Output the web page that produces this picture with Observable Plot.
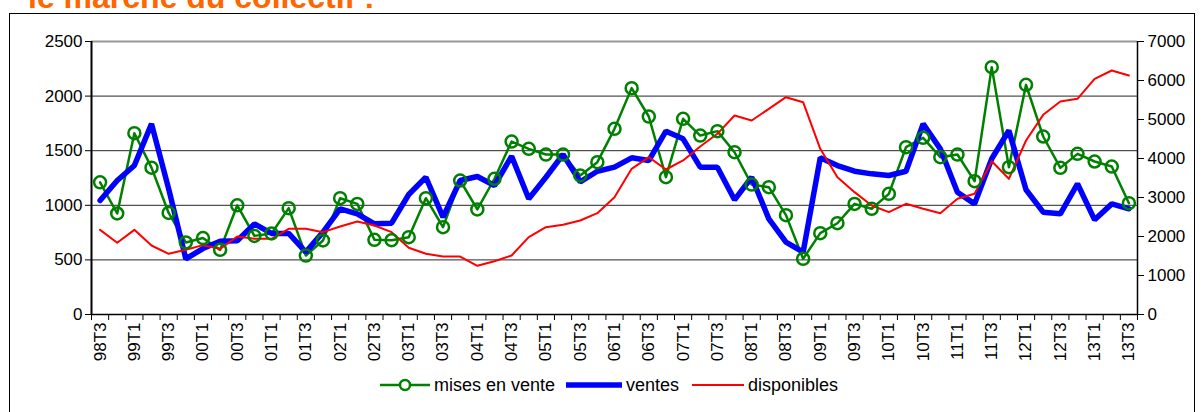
<!DOCTYPE html>
<html><head><meta charset="utf-8">
<script src="https://cdn.jsdelivr.net/npm/d3@7"></script>
<script src="https://cdn.jsdelivr.net/npm/@observablehq/plot@0.6"></script>
<style>
body{margin:0;background:#fff;font-family:"Liberation Sans",Arial,sans-serif;width:1204px;height:412px;overflow:hidden;position:relative}
#frame{position:absolute;left:9px;top:13px;width:1186px;height:430px;border:1px solid #000;box-sizing:border-box}
#title{position:absolute;left:28px;top:-19px;font-weight:bold;font-size:32px;color:#ff6600;line-height:32px;white-space:nowrap}
#chart{position:absolute;left:0;top:0}
.lg{position:absolute;font-size:18px;line-height:18px;white-space:nowrap;color:#000}
.sw{position:absolute}
</style></head>
<body>
<div id="frame"></div>
<div id="title">le marché du collectif :</div>
<div id="chart"></div>
<div id="legend"></div>
<script>
const quarters = ["98T3","98T4","99T1","99T2","99T3","99T4","00T1","00T2","00T3","00T4","01T1","01T2","01T3","01T4","02T1","02T2","02T3","02T4","03T1","03T2","03T3","03T4","04T1","04T2","04T3","04T4","05T1","05T2","05T3","05T4","06T1","06T2","06T3","06T4","07T1","07T2","07T3","07T4","08T1","08T2","08T3","08T4","09T1","09T2","09T3","09T4","10T1","10T2","10T3","10T4","11T1","11T2","11T3","11T4","12T1","12T2","12T3","12T4","13T1","13T2","13T3"];
const mises = [1210,925,1660,1345,930,660,700,592,1000,720,742,974,540,678,1065,1013,684,680,708,1065,800,1227,962,1243,1584,1517,1465,1465,1273,1395,1700,2073,1813,1258,1792,1639,1679,1486,1190,1166,910,510,745,836,1013,968,1105,1532,1618,1441,1465,1221,2265,1349,2103,1630,1343,1471,1401,1355,1019];
const ventes = [1044,1227,1364,1746,1150,510,604,671,675,830,742,742,571,754,968,922,830,836,1099,1257,891,1227,1264,1181,1450,1060,1257,1465,1215,1312,1349,1435,1410,1679,1609,1349,1349,1050,1257,876,662,571,1435,1364,1312,1288,1273,1312,1746,1517,1120,1013,1426,1685,1142,937,922,1197,867,1013,968];
const disponibles = [2171,1838,2171,1769,1556,1658,1778,1684,2000,1940,1940,2197,2197,2111,2256,2385,2282,2111,1710,1556,1487,1487,1248,1367,1513,1983,2239,2299,2410,2598,3008,3735,4034,3718,3949,4308,4633,5103,4974,5274,5572,5444,4248,3521,3137,2795,2624,2838,2710,2598,2966,3094,3931,3479,4462,5120,5461,5530,6043,6256,6128];
const leftTicks = [0,500,1000,1500,2000,2500];
const rightTicks = [0,1000,2000,3000,4000,5000,6000,7000];
const seriesNames = ["mises en vente","ventes","disponibles"];
const seriesColors = ["#008000","#0000ff","#ff0000"];

const leftMax = 2500, rightMax = 7000;
const n = quarters.length;
const data = quarters.map((q,i)=>({i, q, m: mises[i], v: ventes[i], d: disponibles[i]*leftMax/rightMax}));
const font = '"Liberation Sans", Arial, sans-serif';

const chart = Plot.plot({
  width: 1204, height: 370,
  marginLeft: 91, marginRight: 67, marginTop: 41, marginBottom: 56,
  x: {type: "linear", domain: [-0.5, n - 0.5], label: null},
  y: {domain: [0, leftMax], label: null},
  style: {fontFamily: font, fontSize: "17px", color: "#000", background: "transparent", overflow: "visible"},
  marks: [
    Plot.ruleY(leftTicks.filter(d => d > 0 && d < leftMax), {stroke: "#000", strokeOpacity: 0.85}),
    Plot.ruleY([leftMax], {stroke: "#999", strokeWidth: 2}),
    Plot.line(data, {x: "i", y: "m", stroke: seriesColors[0], strokeWidth: 2.5}),
    Plot.line(data, {x: "i", y: "v", stroke: seriesColors[1], strokeWidth: 5.5, strokeLinejoin: "miter"}),
    Plot.line(data, {x: "i", y: "d", stroke: seriesColors[2], strokeWidth: 2}),
    Plot.dot(data, {x: "i", y: "m", r: 6, stroke: seriesColors[0], strokeWidth: 2.5, fill: "none"}),
    Plot.ruleY([0], {stroke: "#000", strokeWidth: 1.5}),
    Plot.ruleX([-0.5], {stroke: "#000", strokeWidth: 2}),
    Plot.ruleX([n - 0.5], {stroke: "#000", strokeWidth: 1.5}),
    Plot.axisY(leftTicks, {anchor: "left", tickSize: 6, tickPadding: 3, tickFormat: d => String(d), label: null}),
    Plot.axisY(rightTicks.map(d => d*leftMax/rightMax), {anchor: "right", tickSize: 6, tickPadding: 4, tickFormat: d => String(Math.round(d*rightMax/leftMax)), label: null}),
    Plot.axisX(d3.range(-0.5, n, 1), {anchor: "bottom", tickSize: 6, tickFormat: () => "", label: null}),
    Plot.axisX(d3.range(0, n, 2), {anchor: "bottom", tickSize: 0, tickPadding: 8, tickRotate: -90, tickFormat: i => quarters[i], label: null})
  ]
});
document.getElementById("chart").appendChild(chart);

// legend
const lg = document.getElementById("legend");
const items = [
  {sx: 380, sw: 50, tx: 434, dot: true, w: 2.5},
  {sx: 566, sw: 56, tx: 626, dot: false, w: 5.5},
  {sx: 692, sw: 52, tx: 748, dot: false, w: 2}
];
items.forEach((it, k) => {
  const s = document.createElementNS("http://www.w3.org/2000/svg", "svg");
  s.setAttribute("class", "sw");
  s.setAttribute("width", it.sw); s.setAttribute("height", 16);
  s.style.left = it.sx + "px"; s.style.top = "377px";
  s.innerHTML = `<line x1="0" y1="8" x2="${it.sw}" y2="8" stroke="${seriesColors[k]}" stroke-width="${it.w}"/>` +
    (it.dot ? `<circle cx="${it.sw/2}" cy="8" r="5" fill="#fff" stroke="${seriesColors[k]}" stroke-width="2.5"/>` : "");
  lg.appendChild(s);
  const t = document.createElement("div");
  t.className = "lg"; t.textContent = seriesNames[k];
  t.style.left = it.tx + "px"; t.style.top = "376px";
  lg.appendChild(t);
});
</script>
</body></html>
